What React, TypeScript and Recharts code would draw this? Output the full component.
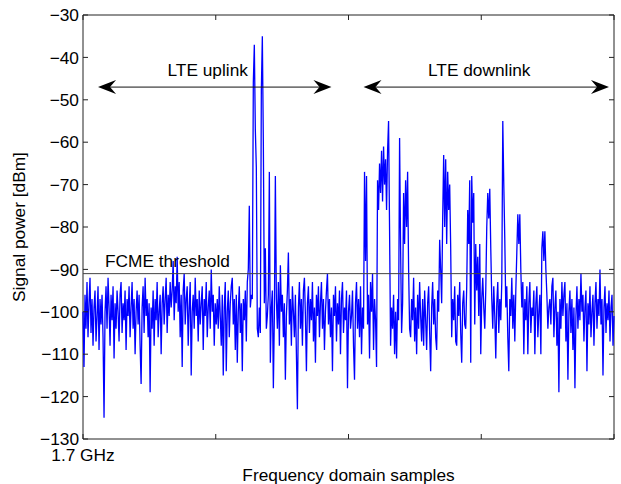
import React from 'react';
import {
  LineChart,
  Line,
  XAxis,
  YAxis,
  ReferenceLine,
  ReferenceArea,
} from 'recharts';

// --- Spectrum samples (dBm) ---
const lowBandNoise = [
  -100, -113, -96, -104, -93, -106, -98, -92, -105, -97, -108, -99, -95, -107, -101, -94,
  -109, -97, -103, -96, -106, -125, -100, -94, -104, -92, -99, -108, -96, -102, -94, -111,
  -98, -104, -95, -100, -107, -96, -93, -105, -98, -102, -95, -109, -97, -101, -94, -106,
  -99, -93, -104, -97, -110, -100, -95, -103, -96, -108, -117, -99, -94, -105, -92, -101,
  -97, -106, -98,
];
const uplinkNoise = [
  -119, -99, -104, -95, -108, -97, -102, -93, -106, -100, -96, -110, -98, -94, -103, -97,
  -92, -105, -96, -101, -93, -99, -95, -88, -102, -94, -98, -87, -100, -93, -106, -96,
  -113, -95, -91, -103, -97, -94, -108, -99, -93, -115, -100, -96, -104, -92, -101, -97,
  -107, -95, -103, -98, -94, -109, -97, -101, -93, -106, -99, -95, -104, -90, -100, -96,
  -108, -98, -103,
];
const uplinkBursts = [
  -97, -104, -94, -101, -108, -96, -115, -99, -93, -114, -100, -95, -106, -98, -94, -92,
  -103, -97, -109, -96, -112, -100, -94, -105, -98, -114, -97, -102, -95, -107, -93, -90,
  -75, -99, -96, -97, -46, -37, -57, -66, -104, -106, -99, -105, -48, -35, -60, -98,
  -85, -104, -101, -96, -67, -112, -99, -95, -118, -101, -68, -97, -104, -93, -108, -89,
  -100, -96, -106,
];
const guardNoise = [
  -98, -116, -101, -95, -86, -103, -97, -108, -94, -100, -106, -96, -110, -123, -99, -93,
  -104, -97, -108, -95, -92, -101, -114, -98, -94, -105, -97, -102, -93, -107, -99, -112,
  -96, -101, -94, -106, -98, -93, -104, -97, -109, -100, -95, -91, -103, -97, -106, -99,
  -114, -96, -101, -94, -107, -98, -103, -95, -110, -97, -93, -105, -99, -102, -95, -118,
  -100, -96, -104,
];
const downlinkLow = [
  -101, -95, -108, -116, -98, -93, -104, -97, -106, -94, -110, -99, -104, -67, -88, -68,
  -103, -96, -111, -93, -100, -91, -109, -97, -102, -113, -69, -76, -65, -72, -62, -74,
  -61, -70, -64, -76, -62, -55, -81, -108, -99, -104, -96, -110, -100, -111, -97, -102,
  -59, -85, -105, -98, -72, -84, -69, -80, -67, -90, -104, -106, -97, -102, -92, -107,
  -99, -110,
];
const downlinkMid = [
  -96, -104, -93, -101, -107, -97, -108, -95, -102, -109, -98, -94, -105, -114, -99, -93,
  -103, -97, -106, -109, -95, -100, -83, -90, -98, -78, -63, -80, -64, -84, -67, -76,
  -70, -85, -106, -97, -102, -94, -107, -108, -96, -101, -93, -105, -112, -98, -95, -103,
  -104, -94, -76, -84, -69, -112, -68, -79, -72, -103, -84, -95, -87, -101, -84, -110,
  -97, -92,
];
const downlinkHigh = [
  -99, -104, -95, -80, -72, -78, -71, -85, -97, -104, -94, -101, -111, -98, -93, -105,
  -97, -102, -93, -55, -70, -83, -99, -94, -106, -114, -97, -101, -92, -104, -96, -107,
  -95, -86, -77, -84, -77, -90, -99, -93, -110, -97, -102, -94, -110, -98, -93, -105,
  -99, -101, -95, -110, -98, -94, -106, -100, -96, -110, -85, -81, -88, -81, -90, -96,
  -104, -99,
];
const highBandNoise = [
  -97, -103, -94, -92, -106, -99, -95, -108, -100, -119, -97, -104, -93, -101, -96, -93,
  -107, -98, -116, -100, -95, -105, -97, -109, -99, -118, -101, -94, -104, -97, -102, -91,
  -100, -96, -107, -99, -95, -114, -98, -103, -94, -106, -100, -96, -108, -98, -93, -104,
  -97, -101, -90, -103, -97, -115, -99, -94, -105, -98, -102, -95, -107, -99, -96, -108,
  -101,
];

const spectrum = [
  ...lowBandNoise,
  ...uplinkNoise,
  ...uplinkBursts,
  ...guardNoise,
  ...downlinkLow,
  ...downlinkMid,
  ...downlinkHigh,
  ...highBandNoise,
];
const data = spectrum.map((v, i) => ({ i, v }));
const lastSample = spectrum.length - 1;

// axes
const yTicks = [-130, -120, -110, -100, -90, -80, -70, -60, -50, -40, -30];
const xTickLabels = ['1.7 GHz', '', '', '', ''];
const xTicks = xTickLabels.map((_, k) => (lastSample * k) / (xTickLabels.length - 1));

// annotations
const thresholdDbm = -91;
const arrowDbm = -47;
const uplinkSpan = [15, 248];
const downlinkSpan = [280, 525];

const W = 621;
const H = 484;
const PLOT = { left: 83, top: 15, right: 614, bottom: 439 };
const FONT = 'Liberation Sans, Arial, Helvetica, sans-serif';
const FS = 17.3;
const TICK = 5;

const fmt = (v: number) => (v < 0 ? `\u2212${Math.abs(v)}` : `${v}`);

const YTick = (p: any) => (
  <g>
    <line x1={PLOT.left} x2={PLOT.left + TICK} y1={p.y} y2={p.y} stroke="#222" />
    <line x1={PLOT.right - TICK} x2={PLOT.right} y1={p.y} y2={p.y} stroke="#222" />
    <text x={PLOT.left - 4} y={p.y} dy="0.36em" textAnchor="end" fontFamily={FONT} fontSize={FS} fill="#000">
      {fmt(p.payload.value)}
    </text>
  </g>
);

const XTick = (p: any) => (
  <g>
    <line x1={p.x} x2={p.x} y1={PLOT.bottom} y2={PLOT.bottom - TICK} stroke="#222" />
    <line x1={p.x} x2={p.x} y1={PLOT.top} y2={PLOT.top + TICK} stroke="#222" />
    <text x={p.x} y={PLOT.bottom + 22} textAnchor="middle" fontFamily={FONT} fontSize={FS} fill="#000">
      {xTickLabels[p.index]}
    </text>
  </g>
);

const Arrow = (label: string) => (p: any) => {
  const { x1, y1, x2 } = p;
  if (x1 == null) return <g />;
  const len = 18;
  const half = 7;
  const notch = 12;
  return (
    <g>
      <line x1={x1 + notch} x2={x2 - notch} y1={y1} y2={y1} stroke="#111" strokeWidth={1} />
      <polygon
        points={`${x1},${y1} ${x1 + len},${y1 - half} ${x1 + notch},${y1} ${x1 + len},${y1 + half}`}
        fill="#000"
      />
      <polygon
        points={`${x2},${y1} ${x2 - len},${y1 - half} ${x2 - notch},${y1} ${x2 - len},${y1 + half}`}
        fill="#000"
      />
      <text x={(x1 + x2) / 2 - 7} y={y1 - 11} textAnchor="middle" fontFamily={FONT} fontSize={FS} fill="#000">
        {label}
      </text>
    </g>
  );
};

const Threshold = (p: any) => {
  if (p.x1 == null) return <g />;
  return (
    <g>
      <line x1={p.x1} x2={p.x2} y1={p.y1} y2={p.y2} stroke="#444" strokeWidth={1} />
      <text x={p.x1 + 22} y={p.y1 - 7} fontFamily={FONT} fontSize={FS} fill="#000">
        FCME threshold
      </text>
    </g>
  );
};

const XTitle = () => (
  <text x={(PLOT.left + PLOT.right) / 2} y={481} textAnchor="middle" fontFamily={FONT} fontSize={FS} fill="#000">
    Frequency domain samples
  </text>
);

const YTitle = () => (
  <text
    x={25}
    y={(PLOT.top + PLOT.bottom) / 2}
    transform={`rotate(-90 25 ${(PLOT.top + PLOT.bottom) / 2})`}
    textAnchor="middle"
    fontFamily={FONT}
    fontSize={FS}
    fill="#000"
  >
    Signal power [dBm]
  </text>
);

export default function App() {
  return (
    <div style={{ position: 'absolute', left: 0, top: 0, width: W, height: H, background: '#fff' }}>
      <LineChart
        width={W}
        height={H}
        data={data}
        margin={{ top: PLOT.top, right: W - PLOT.right, bottom: 0, left: 0 }}
      >
        <XAxis
          dataKey="i"
          type="number"
          domain={[0, lastSample]}
          ticks={xTicks}
          interval={0}
          height={H - PLOT.bottom}
          axisLine={false}
          tickLine={false}
          tick={(p: any) => <XTick {...p} />}
          label={{ content: () => <XTitle /> }}
        />
        <YAxis
          type="number"
          domain={[-130, -30]}
          ticks={yTicks}
          interval={0}
          width={PLOT.left}
          axisLine={false}
          tickLine={false}
          tick={(p: any) => <YTick {...p} />}
          label={{ content: () => <YTitle /> }}
        />
        <ReferenceArea
          x1={0}
          x2={lastSample}
          y1={-130}
          y2={-30}
          fill="none"
          stroke="#222"
          strokeWidth={1}
        />
        <Line
          type="linear"
          dataKey="v"
          stroke="#0000ff"
          strokeWidth={1.3}
          dot={false}
          isAnimationActive={false}
        />
        <ReferenceLine y={thresholdDbm} shape={Threshold} />
        <ReferenceLine
          segment={[
            { x: uplinkSpan[0], y: arrowDbm },
            { x: uplinkSpan[1], y: arrowDbm },
          ]}
          shape={Arrow('LTE uplink')}
        />
        <ReferenceLine
          segment={[
            { x: downlinkSpan[0], y: arrowDbm },
            { x: downlinkSpan[1], y: arrowDbm },
          ]}
          shape={Arrow('LTE downlink')}
        />
      </LineChart>
    </div>
  );
}
